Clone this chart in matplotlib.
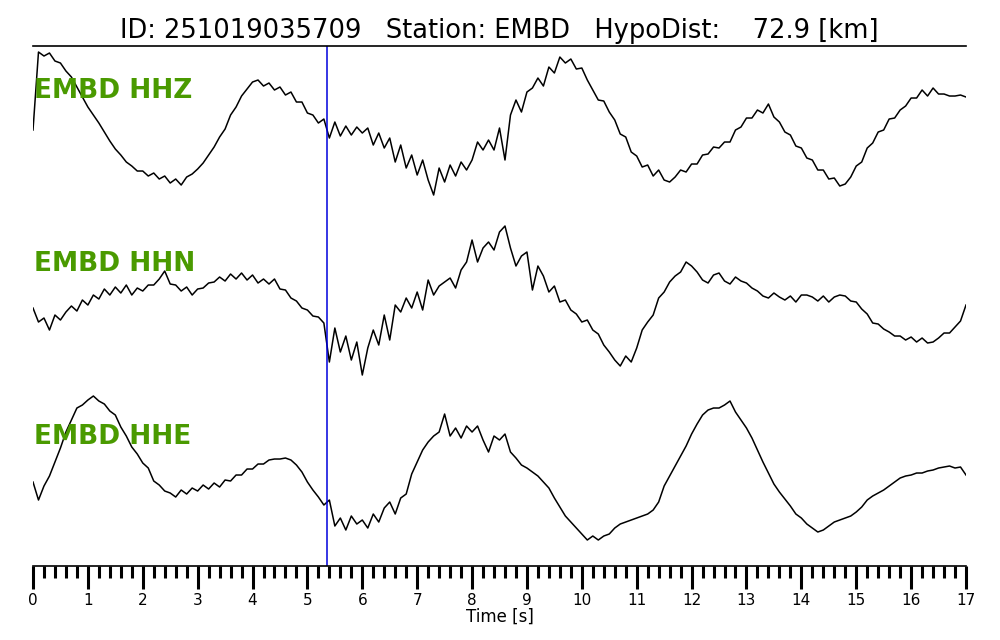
import numpy as np
import matplotlib
matplotlib.use("Agg")
import matplotlib.pyplot as plt
from matplotlib.ticker import MultipleLocator

# ---- data (sampled every 0.1 s, values in display counts, downward positive) ----
dt = 0.1
station = "EMBD"
event_id = "251019035709"
hypo_dist = 72.9
p_pick = 5.36
channels = ["HHZ", "HHN", "HHE"]

hhz = [130,52,56,53,61,63,71,77,87,97,
       107,115,123,132,141,149,155,162,166,171,
       171,176,173,179,176,183,179,185,177,174,
       169,163,155,147,137,129,115,107,96,89,
       82,80,86,83,90,87,95,92,102,102,
       113,115,123,119,138,122,136,126,135,127,
       133,128,145,133,148,138,162,145,168,155,
       175,160,180,195,168,182,165,176,162,170,
       160,142,150,140,150,128,160,115,100,112,
       92,88,78,86,67,73,57,63,59,69,
       68,80,90,100,101,112,120,134,137,152,
       156,167,165,176,170,180,182,177,170,172,
       164,164,155,154,147,148,142,142,130,127,
       118,118,110,113,104,117,122,132,135,146,
       148,158,160,170,170,179,178,186,184,177,
       166,162,148,143,132,130,119,118,110,106,
       98,98,90,96,88,94,94,96,96,95,
       97]

hhn = [308,322,318,330,315,320,312,306,311,300,
       305,295,299,289,295,287,293,285,295,288,
       291,285,285,279,271,284,285,291,287,295,
       289,288,283,282,277,281,274,279,273,280,
       275,283,279,284,279,289,290,298,301,308,
       310,316,317,323,362,328,352,336,360,342,
       375,348,330,345,315,340,305,312,298,308,
       292,310,280,295,286,282,278,288,270,262,
       240,262,248,242,250,232,226,248,266,256,
       252,290,266,276,292,286,302,300,310,314,
       322,320,330,334,345,352,360,366,356,362,
       348,330,322,315,298,292,282,276,272,262,
       266,272,280,283,275,273,281,284,277,281,
       283,288,291,296,298,293,297,300,296,302,
       295,295,297,301,296,302,297,295,296,301,
       302,309,314,323,324,329,332,336,336,340,
       337,342,338,343,342,338,333,333,327,321,
       305]

hhe = [482,500,486,476,462,448,432,420,408,405,
       400,396,401,404,411,415,427,436,447,454,
       463,468,481,485,491,493,497,490,494,488,
       491,485,489,483,487,480,481,475,475,469,
       469,464,464,460,459,459,458,460,465,472,
       482,490,497,505,500,526,518,530,516,524,
       520,528,514,522,508,502,514,498,494,474,
       462,450,442,436,432,414,436,428,438,426,
       432,426,440,452,436,440,434,452,458,465,
       468,472,476,482,488,498,507,516,522,528,
       534,540,536,540,536,534,528,524,522,520,
       518,516,514,510,502,486,476,466,456,446,
       434,424,415,410,408,408,405,401,412,420,
       428,438,450,462,473,484,492,499,506,514,
       518,524,528,532,530,526,522,520,518,516,
       512,507,500,496,493,490,486,482,478,476,
       475,473,473,471,470,468,467,466,468,467,
       475]

traces = [hhz, hhn, hhe]
label_rows = [91, 264, 437]

fig = plt.figure(figsize=(10, 6.4), dpi=100)
ax = fig.add_axes([0.033, 0.1156, 0.933, 0.8125])

for tr in traces:
    v = np.asarray(tr, dtype=float)
    t = np.arange(len(v)) * dt
    ax.plot(t, -v, color="black", lw=1.1)

for ch, row in zip(channels, label_rows):
    ax.text(0.01, -row, f"{station} {ch}", color="#4a9a00", fontsize=19,
            fontweight="bold", va="center", ha="left")

ax.axvline(p_pick, color="#0000dd", lw=1.1)

ax.set_xlim(0, 17)
ax.set_ylim(-566, -46)
ax.spines["left"].set_visible(False)
ax.spines["right"].set_visible(False)
ax.spines["top"].set_linewidth(1.2)
ax.spines["bottom"].set_linewidth(1.2)
ax.set_yticks([])
ax.xaxis.set_major_locator(MultipleLocator(1))
ax.xaxis.set_minor_locator(MultipleLocator(0.2))
ax.tick_params(axis="x", which="major", length=16.5, width=2.2, labelsize=11, pad=3)
ax.tick_params(axis="x", which="minor", length=8.5, width=2.2)
ax.set_xlabel("Time [s]", fontsize=12, labelpad=0)
ax.set_title(f"ID: {event_id}   Station: {station}   HypoDist: {hypo_dist:7.1f} [km]",
             fontsize=18.5, pad=6)

fig.savefig("out.png", dpi=100)
